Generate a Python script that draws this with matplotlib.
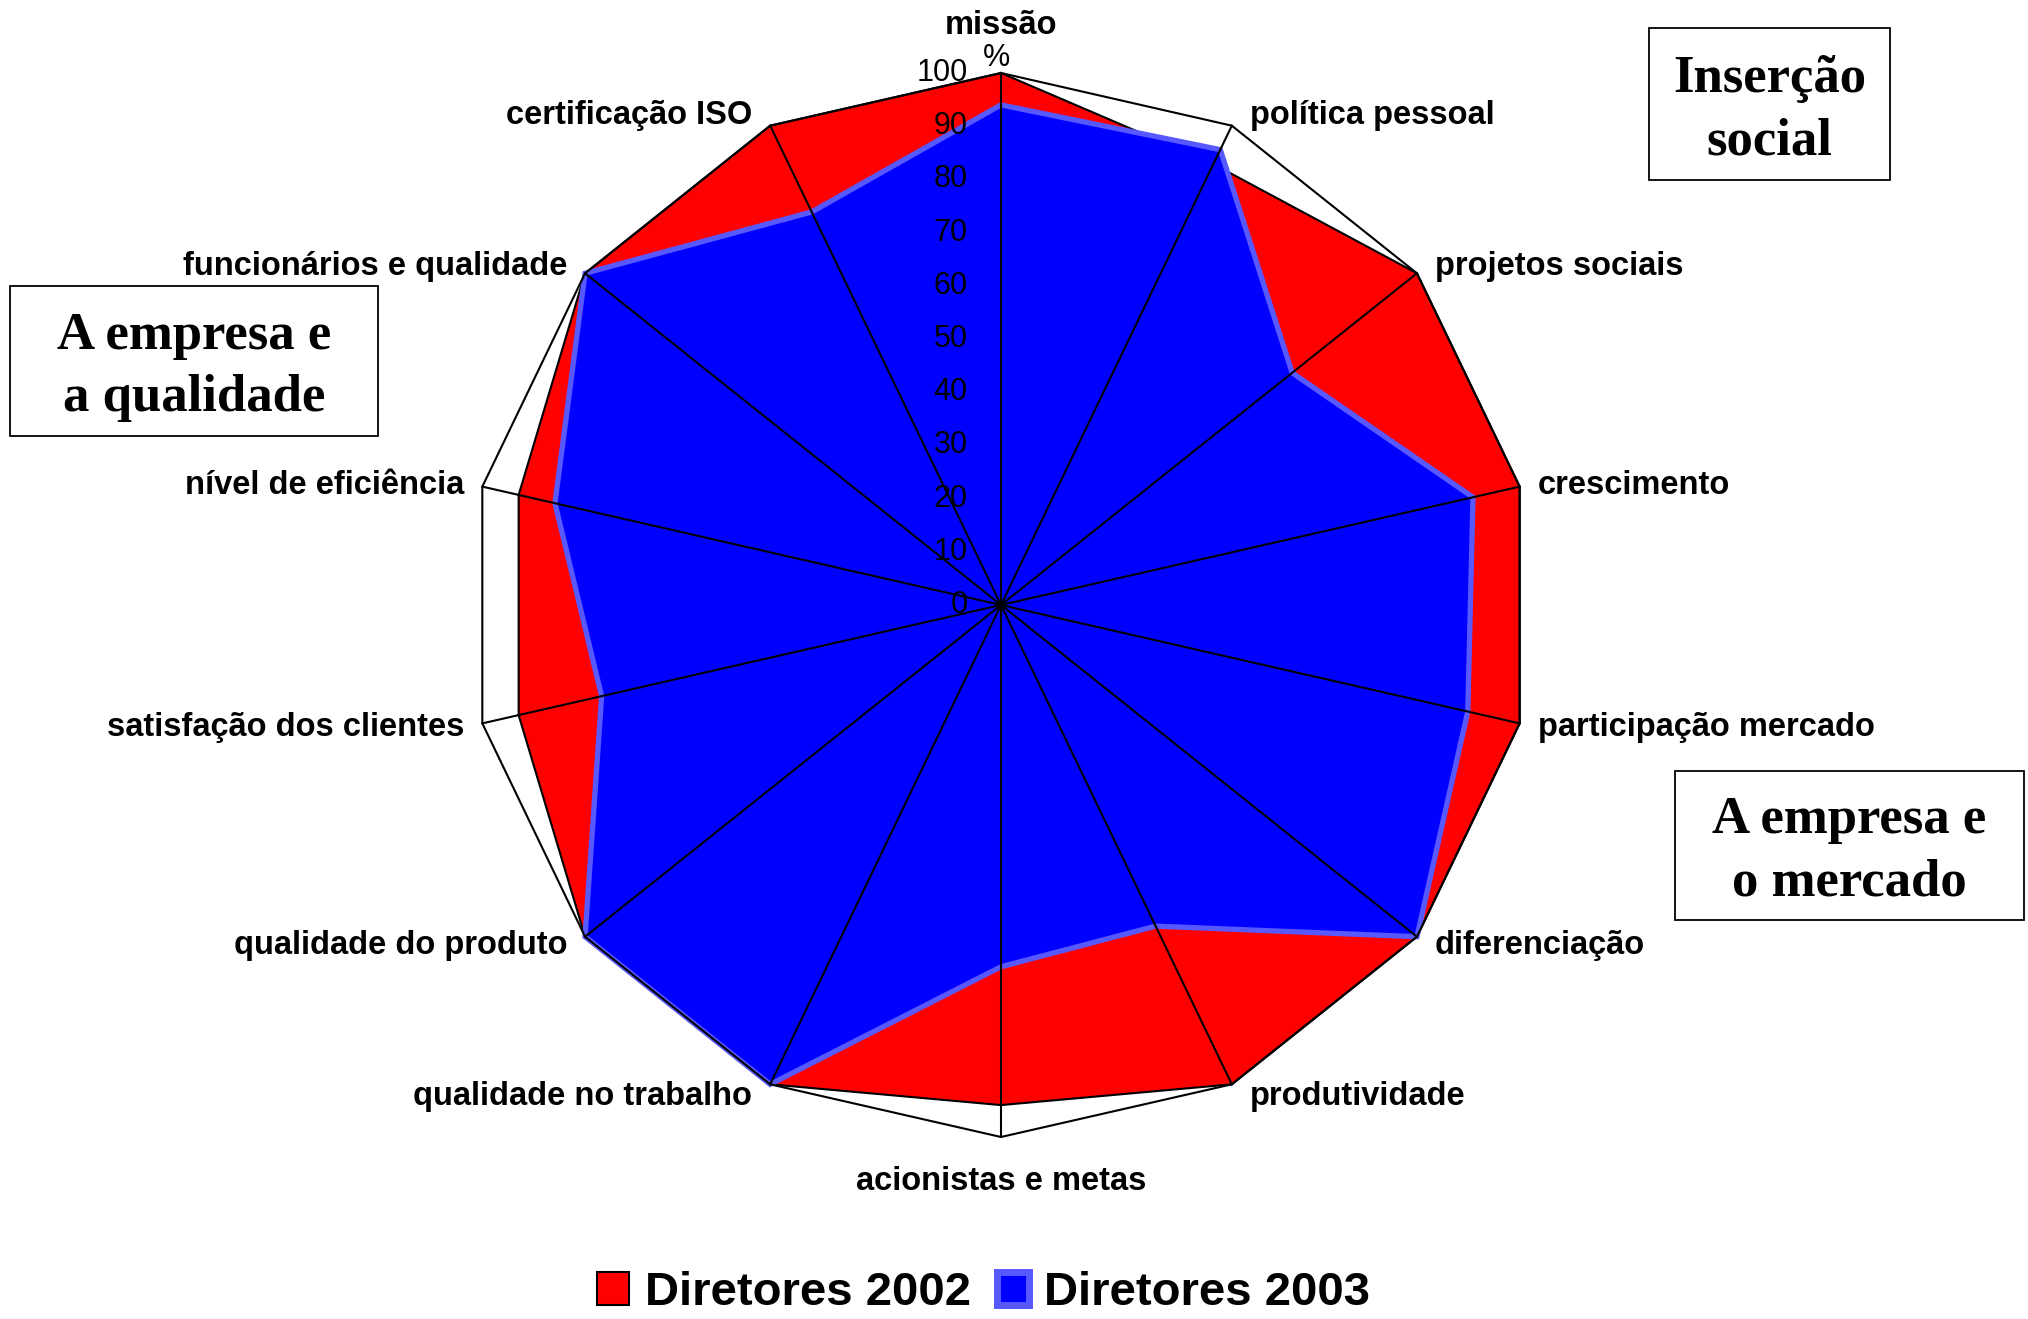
import numpy as np
import matplotlib
matplotlib.use('Agg')
import matplotlib.pyplot as plt
from matplotlib.patches import Patch, Rectangle

plt.rcParams['font.family'] = ['Liberation Sans', 'DejaVu Sans']

categories = ['missão', 'política pessoal', 'projetos sociais', 'crescimento',
              'participação mercado', 'diferenciação', 'produtividade',
              'acionistas e metas', 'qualidade no trabalho', 'qualidade do produto',
              'satisfação dos clientes', 'nível de eficiência',
              'funcionários e qualidade', 'certificação ISO']
diretores_2002 = [100, 92, 100, 100, 100, 100, 100, 94, 100, 100, 93, 93, 100, 100]
diretores_2003 = [94, 95, 70, 91, 90, 100, 67, 68, 100, 100, 77, 86, 100, 82]
r_ticks = list(range(0, 101, 10))

W, H = 2028, 1319
fig = plt.figure(figsize=(W / 100, H / 100), dpi=100)

# chart centre and radius in pixels
cx, cy, rad = 1001, 605, 532
ax = fig.add_axes([(cx - rad) / W, (H - cy - rad) / H, 2 * rad / W, 2 * rad / H],
                  projection='polar')
ax.set_theta_zero_location('N')
ax.set_theta_direction(-1)

n = len(categories)
angles = np.linspace(0, 2 * np.pi, n, endpoint=False)
closed = np.append(angles, angles[0])


def close(v):
    return list(v) + [v[0]]


ax.fill(closed, close(diretores_2002), facecolor='#FF0000', edgecolor='black',
        lw=1.5, zorder=2, clip_on=False)
ax.fill(closed, close(diretores_2003), facecolor='#0000FF', edgecolor='#5858FF',
        lw=3.8, zorder=3, clip_on=False)
ax.plot(closed, [100] * (n + 1), color='black', lw=1.5, zorder=4, clip_on=False)
for a in angles:
    ax.plot([a, a], [0, 100], color='black', lw=1.5, zorder=4, clip_on=False)

ax.set_ylim(0, 100)
ax.grid(False)
ax.set_xticks([])
ax.set_yticks([])
ax.spines['polar'].set_visible(False)
ax.patch.set_alpha(0)

# radial scale along the top spoke
for v in r_ticks:
    ax.annotate(str(v), xy=(0, v), xytext=(-24, 0), textcoords='offset points',
                ha='right', va='center', fontsize=22, annotation_clip=False, zorder=5)
ax.annotate('%', xy=(0, 100), xytext=(-3, 11), textcoords='offset points',
            ha='center', va='center', fontsize=22, annotation_clip=False)

# category labels
for a, lab in zip(angles, categories):
    s, c = np.sin(a), np.cos(a)
    if abs(s) < 1e-6:
        off = (0, 34) if c > 0 else (0, -32)
        ha = 'center'
    else:
        off = (13 * np.sign(s), 9 * c - 1)
        ha = 'left' if s > 0 else 'right'
    ax.annotate(lab, xy=(a, 100), xytext=off, textcoords='offset points',
                ha=ha, va='center', fontsize=23.5, fontweight='bold',
                annotation_clip=False)

# group boxes
boxes = [((1649, 28, 1890, 180), 'Inserção\nsocial'),
         ((10, 286, 378, 436), 'A empresa e\na qualidade'),
         ((1675, 771, 2024, 920), 'A empresa e\no mercado')]
for (x0, y0, x1, y1), txt in boxes:
    fig.add_artist(Rectangle((x0 / W, 1 - y1 / H), (x1 - x0) / W, (y1 - y0) / H,
                             transform=fig.transFigure, facecolor='white',
                             edgecolor='black', lw=1.3))
    fig.text((x0 + x1) / 2 / W, 1 - ((y0 + y1) / 2 + 6) / H, txt, ha='center',
             va='center', fontsize=38, family='Liberation Serif', fontweight='bold',
             linespacing=1.38, multialignment='center')

handles = [Patch(facecolor='#FF0000', edgecolor='black', lw=1.5, label='Diretores 2002'),
           Patch(facecolor='#0000FF', edgecolor='#5858FF', lw=5, label='Diretores 2003')]
fig.legend(handles=handles, loc='center', bbox_to_anchor=(0.485, 0.0197), ncol=2,
           frameon=False, prop={'weight': 'bold', 'size': 34},
           handlelength=0.68, handleheight=0.72, handletextpad=0.32,
           columnspacing=0.55, borderpad=0, borderaxespad=0)

fig.savefig('out.png', dpi=100)
